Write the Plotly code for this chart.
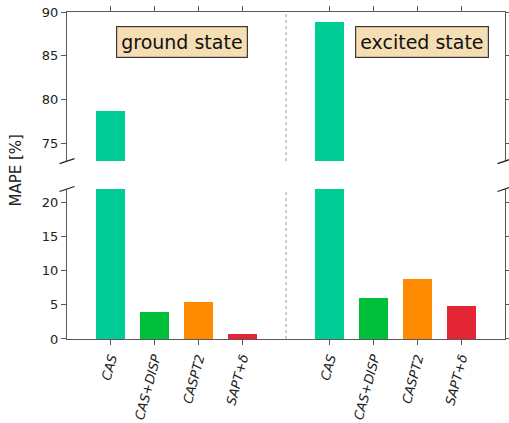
import plotly.graph_objects as go

# Mean absolute percentage errors for each method, ground and excited states
methods = ["CAS", "CAS+DISP", "CASPT2", "SAPT+δ"]
ground_mape = [78.7, 4.0, 5.4, 0.8]
excited_mape = [88.9, 6.0, 8.8, 4.8]
method_colors = ["#00cc96", "#00bf3a", "#ff8c00", "#e32636"]

ground_pos = [0, 1, 2, 3]
excited_pos = [5, 6, 7, 8]
separator_pos = 4

low_ticks = [0, 5, 10, 15, 20]
high_ticks = [75, 80, 85, 90]
low_range = [0, 22]
high_range = [73, 90]

x_all = ground_pos + excited_pos
y_all = ground_mape + excited_mape
c_all = method_colors + method_colors
labels_all = methods + methods

AXIS = "#5a5a5a"
FONT = "DejaVu Sans"

fig = go.Figure()
for yax, xax in (("y", "x"), ("y2", "x2")):
    fig.add_trace(go.Bar(
        x=x_all, y=y_all, marker=dict(color=c_all, line=dict(width=0)),
        width=0.66, xaxis=xax, yaxis=yax, showlegend=False, hoverinfo="x+y",
    ))

low_dom = [0, 0.4587]
high_dom = [0.544, 1]

common_y = dict(showline=True, linecolor=AXIS, linewidth=1.3, mirror="ticks",
                ticks="outside", ticklen=5, tickcolor=AXIS, tickwidth=1.3,
                showgrid=False, zeroline=False, automargin=False,
                tickfont=dict(family=FONT, size=13, color="#222"))

fig.update_layout(
    width=509, height=423,
    margin=dict(l=67, r=4, t=12, b=84),
    paper_bgcolor="white", plot_bgcolor="white",
    bargap=0,
    xaxis=dict(domain=[0, 1], anchor="y", range=[-1, 9],
               tickvals=x_all, ticktext=labels_all, tickangle=-75,
               ticks="outside", ticklen=5, tickcolor=AXIS, tickwidth=1.3,
               showline=True, linecolor=AXIS, linewidth=1.3, mirror=False,
               showgrid=False, zeroline=False, automargin=False,
               tickfont=dict(family=FONT, size=13, color="#222", style="italic")),
    xaxis2=dict(domain=[0, 1], anchor="y2", range=[-1, 9], side="top",
                tickvals=x_all, showticklabels=False,
                ticks="outside", ticklen=5, tickcolor=AXIS, tickwidth=1.3,
                showline=True, linecolor=AXIS, linewidth=1.3, mirror=False,
                showgrid=False, zeroline=False, automargin=False),
    yaxis=dict(domain=low_dom, anchor="x", range=low_range, tickvals=low_ticks, **common_y),
    yaxis2=dict(domain=high_dom, anchor="x2", range=high_range, tickvals=high_ticks, **common_y),
)

# dotted separator between the two state groups
for xr, yr in (("x", "y domain"), ("x2", "y2 domain")):
    fig.add_shape(type="line", xref=xr, yref=yr, x0=separator_pos, x1=separator_pos,
                  y0=0, y1=1, line=dict(color="#9a9a9a", width=1, dash="dot"))

# diagonal break marks on the broken y axis
dx, dy = 7.5 / 438, 2.5 / 327
for xc in (0, 1):
    for yc in (high_dom[0], low_dom[1]):
        fig.add_shape(type="line", xref="paper", yref="paper",
                      x0=xc - dx, y0=yc - dy, x1=xc + dx, y1=yc + dy,
                      line=dict(color="#222", width=1.3))

box = dict(bgcolor="#f5deb3", bordercolor="#3a3a3a", borderwidth=1.2,
           borderpad=4, font=dict(family=FONT, size=19, color="#111"),
           showarrow=False, xanchor="center", yanchor="middle")
fig.add_annotation(text="ground state", xref="x2 domain", yref="y2 domain",
                   x=0.262, y=0.80, **box)
fig.add_annotation(text="excited state", xref="x2 domain", yref="y2 domain",
                   x=0.81, y=0.80, **box)

fig.add_annotation(text="MAPE [%]", xref="paper", yref="paper",
                   x=(15.5 - 67) / 438, y=(339 - 171) / 327, textangle=-90,
                   showarrow=False, xanchor="center", yanchor="middle",
                   font=dict(family=FONT, size=15, color="#222"))

fig.write_html("out.html")
